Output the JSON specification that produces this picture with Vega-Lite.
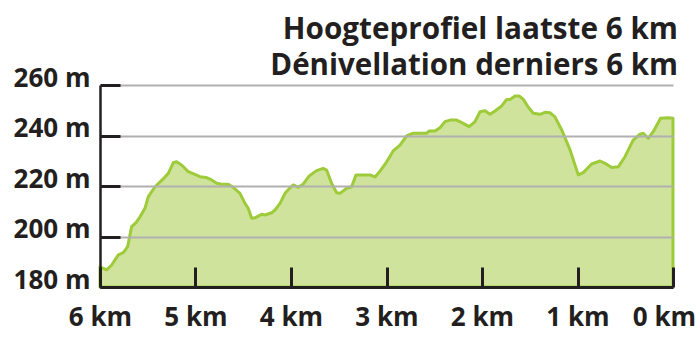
{
  "$schema": "https://vega.github.io/schema/vega-lite/v6.json",
  "width": 573,
  "height": 202,
  "autosize": {"type": "none"},
  "padding": {"left": 100, "top": 85, "right": 27, "bottom": 51},
  "background": "white",
  "title": {
    "text": "Hoogteprofiel laatste 6 km",
    "subtitle": "Dénivellation derniers 6 km",
    "anchor": "end",
    "frame": "group",
    "font": "Open Sans",
    "fontSize": 29.7,
    "fontWeight": "bold",
    "color": "#231f20",
    "subtitleFont": "Open Sans",
    "subtitleFontSize": 29.5,
    "subtitleFontWeight": "bold",
    "subtitleColor": "#231f20",
    "subtitlePadding": 6,
    "dx": 5,
    "dy": 24,
    "offset": 8
  },
  "data": {
    "values": [
      {"km": 6.0, "elev": 188},
      {"km": 5.93, "elev": 186.8},
      {"km": 5.878, "elev": 188.7},
      {"km": 5.808, "elev": 192.7},
      {"km": 5.756, "elev": 193.6},
      {"km": 5.71, "elev": 196},
      {"km": 5.669, "elev": 203.9},
      {"km": 5.623, "elev": 205.5},
      {"km": 5.581, "elev": 207.8},
      {"km": 5.529, "elev": 211.2},
      {"km": 5.494, "elev": 215.8},
      {"km": 5.424, "elev": 219.7},
      {"km": 5.344, "elev": 222.6},
      {"km": 5.285, "elev": 225},
      {"km": 5.233, "elev": 229.2},
      {"km": 5.198, "elev": 229.6},
      {"km": 5.146, "elev": 228.3},
      {"km": 5.076, "elev": 225.7},
      {"km": 5.006, "elev": 224.6},
      {"km": 4.953, "elev": 223.7},
      {"km": 4.89, "elev": 223.4},
      {"km": 4.831, "elev": 222.4},
      {"km": 4.778, "elev": 221.1},
      {"km": 4.726, "elev": 220.7},
      {"km": 4.657, "elev": 220.7},
      {"km": 4.605, "elev": 219.5},
      {"km": 4.534, "elev": 217.1},
      {"km": 4.482, "elev": 213.1},
      {"km": 4.448, "elev": 211.2},
      {"km": 4.412, "elev": 207.2},
      {"km": 4.377, "elev": 207.4},
      {"km": 4.307, "elev": 208.8},
      {"km": 4.273, "elev": 208.5},
      {"km": 4.202, "elev": 209.4},
      {"km": 4.168, "elev": 210.5},
      {"km": 4.115, "elev": 213.1},
      {"km": 4.063, "elev": 217.1},
      {"km": 4.01, "elev": 219.3},
      {"km": 3.976, "elev": 220.4},
      {"km": 3.923, "elev": 219.5},
      {"km": 3.871, "elev": 220.8},
      {"km": 3.809, "elev": 224},
      {"km": 3.732, "elev": 226.1},
      {"km": 3.663, "elev": 227},
      {"km": 3.627, "elev": 226.3},
      {"km": 3.575, "elev": 221.1},
      {"km": 3.522, "elev": 217.3},
      {"km": 3.487, "elev": 217.1},
      {"km": 3.417, "elev": 219.1},
      {"km": 3.365, "elev": 219.7},
      {"km": 3.319, "elev": 224.4},
      {"km": 3.26, "elev": 224.4},
      {"km": 3.173, "elev": 224.4},
      {"km": 3.12, "elev": 223.6},
      {"km": 3.068, "elev": 225.9},
      {"km": 2.998, "elev": 229.6},
      {"km": 2.93, "elev": 233.9},
      {"km": 2.859, "elev": 236.2},
      {"km": 2.789, "elev": 239.8},
      {"km": 2.719, "elev": 240.9},
      {"km": 2.579, "elev": 240.9},
      {"km": 2.552, "elev": 241.8},
      {"km": 2.492, "elev": 241.8},
      {"km": 2.44, "elev": 243.1},
      {"km": 2.387, "elev": 245.5},
      {"km": 2.335, "elev": 246.1},
      {"km": 2.265, "elev": 246.1},
      {"km": 2.196, "elev": 244.8},
      {"km": 2.134, "elev": 243.5},
      {"km": 2.073, "elev": 245.5},
      {"km": 2.021, "elev": 249.4},
      {"km": 1.969, "elev": 249.8},
      {"km": 1.916, "elev": 248.4},
      {"km": 1.864, "elev": 249.7},
      {"km": 1.794, "elev": 251.7},
      {"km": 1.741, "elev": 254.3},
      {"km": 1.707, "elev": 254.3},
      {"km": 1.654, "elev": 255.6},
      {"km": 1.609, "elev": 255.6},
      {"km": 1.567, "elev": 254.3},
      {"km": 1.515, "elev": 251.2},
      {"km": 1.463, "elev": 248.8},
      {"km": 1.393, "elev": 248.4},
      {"km": 1.34, "elev": 249.2},
      {"km": 1.288, "elev": 249},
      {"km": 1.236, "elev": 247.4},
      {"km": 1.165, "elev": 242.2},
      {"km": 1.078, "elev": 234.3},
      {"km": 0.992, "elev": 224.4},
      {"km": 0.94, "elev": 225.3},
      {"km": 0.852, "elev": 228.7},
      {"km": 0.764, "elev": 229.9},
      {"km": 0.712, "elev": 229},
      {"km": 0.642, "elev": 227.3},
      {"km": 0.573, "elev": 227.6},
      {"km": 0.503, "elev": 231.6},
      {"km": 0.417, "elev": 238.2},
      {"km": 0.346, "elev": 240.5},
      {"km": 0.311, "elev": 240.9},
      {"km": 0.259, "elev": 238.9},
      {"km": 0.207, "elev": 241.5},
      {"km": 0.13, "elev": 246.8},
      {"km": 0.05, "elev": 247},
      {"km": 0.0, "elev": 246.8}
    ]
  },
  "mark": {
    "type": "area",
    "fill": "#d0e39c",
    "stroke": "#9dcb3a",
    "strokeWidth": 3,
    "strokeJoin": "round",
    "clip": false
  },
  "encoding": {
    "x": {
      "field": "km",
      "type": "quantitative",
      "scale": {"domain": [6, 0], "nice": false, "zero": false},
      "axis": {
        "values": [6, 5, 4, 3, 2, 1, 0],
        "labelExpr": "datum.value + ' km'",
        "title": null,
        "grid": false,
        "tickSize": -20,
        "tickWidth": 3,
        "tickColor": "#231f20",
        "domainColor": "#231f20",
        "domainWidth": 3,
        "labelFont": "Open Sans",
        "labelFontWeight": "bold",
        "labelFontSize": 26,
        "labelColor": "#231f20",
        "labelPadding": 37,
        "labelOffset": {"expr": "datum.value == 0 ? -9 : 0"},
        "labelFlush": false,
        "labelOverlap": false,
        "zindex": 1
      }
    },
    "y": {
      "field": "elev",
      "type": "quantitative",
      "scale": {"domain": [180, 260], "nice": false, "zero": false},
      "axis": {
        "values": [180, 200, 220, 240, 260],
        "labelExpr": "datum.value + ' m'",
        "title": null,
        "grid": true,
        "gridColor": "#b0b0b0",
        "gridWidth": 2,
        "tickSize": -20,
        "tickWidth": 3,
        "tickColor": "#231f20",
        "domainColor": "#231f20",
        "domainWidth": 2.5,
        "labelFont": "Open Sans",
        "labelFontWeight": "bold",
        "labelFontSize": 26,
        "labelColor": "#231f20",
        "labelPadding": 30,
        "labelBaseline": "alphabetic",
        "labelOffset": 1,
        "labelFlush": false,
        "labelOverlap": false,
        "zindex": 1
      }
    },
    "y2": {"datum": 180}
  },
  "config": {"view": {"stroke": null}}
}
